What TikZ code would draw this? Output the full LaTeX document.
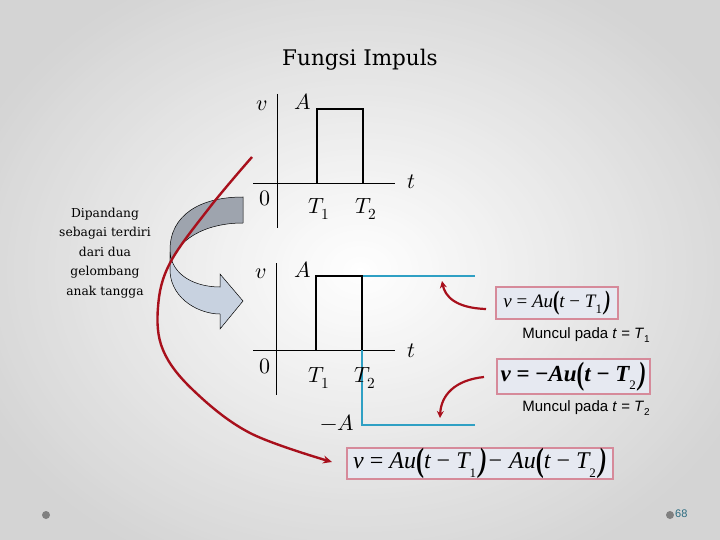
\documentclass[tikz,border=0pt]{standalone}
\usepackage{fontspec}
\usepackage{unicode-math}
\setmathfont{Latin Modern Math}
\usepackage{graphicx}
\usetikzlibrary{arrows.meta}
\newfontfamily\tnr{Liberation Serif}
\newfontfamily\sansf{Liberation Sans}
\newfontfamily\titlef{DejaVu Serif}
\definecolor{redc}{HTML}{A8101C}
\definecolor{bluec}{HTML}{2FA0C4}
\definecolor{pinkc}{HTML}{D68A9A}
\definecolor{boxc}{HTML}{E6E9F1}
\definecolor{darkg}{HTML}{9EA4AE}
\definecolor{lightg}{HTML}{C8D2E0}
\definecolor{pagec}{HTML}{2A6B80}
\newcommand\bp[1]{\raisebox{-0.12em}{\scalebox{1}[1.4]{\bfseries #1}}}
\newcommand\sbs[1]{\raisebox{-0.35em}{\fontsize{13}{13}\selectfont\upshape\mdseries #1}\hspace{0.12em}}
\newcommand\msub[1]{\raisebox{-0.3em}{\fontsize{10}{10}\selectfont\upshape #1}}
\tikzset{
  axis/.style={line width=0.9pt},
  pulse/.style={line width=2.6pt},
  bluel/.style={line width=2.6pt, draw=bluec},
  lbl/.style={font=\fontsize{22}{22}\selectfont, inner sep=0pt},
  eqbox/.style={draw=pinkc, line width=1.8pt, fill=boxc, inner sep=0pt},
  redarrow/.style={draw=redc, line width=2.4pt, -{Stealth[length=9pt,width=8pt]}},
  smallred/.style={draw=redc, line width=2.2pt, -{Stealth[length=7pt,width=7pt]}},
  muncul/.style={font=\sansf\fontsize{15}{15}\selectfont, anchor=east, inner sep=0pt},
}
\begin{document}
\begin{tikzpicture}[x=1pt,y=-1pt]
\useasboundingbox (0,0) rectangle (720,540);
\shade[inner color=white, outer color=black!24] (-60,-60) rectangle (780,600);
\fill[white, opacity=0.3] (0,0) rectangle (720,540);
% title
\node[font=\titlef\fontsize{21.5}{21.5}\selectfont] (title) at (360,60) {Fungsi Impuls};
% left text
\node[font=\titlef\fontsize{12.3}{19.5}\selectfont, align=center] (desc) at (105,253)
  {Dipandang\\sebagai terdiri\\dari dua\\gelombang\\anak tangga};
% curved ribbon arrow
\fill[darkg, draw=black, line width=0.5pt] (243,197) .. controls (200,197) and (170,215) .. (170,250)
  -- (170,268) .. controls (174,240) and (205,223) .. (243,223) -- cycle;
\fill[lightg, draw=black, line width=0.5pt] (170,252) -- (170,272) .. controls (172,300) and (200,314) .. (220,314)
  -- (220,329) -- (243,301) -- (220,274) -- (220,287) .. controls (196,287) and (172,276) .. (170,252) -- cycle;
% ---- top graph
\draw[axis] (277,94) -- (277,228);
\draw[axis] (253,183) -- (395,183);
\draw[pulse] (317,183) -- (317,109) -- (363,109) -- (363,183);
\node[lbl] (v1) at (262,106) {$v$};
\node[lbl] (A1) at (303,102) {$A$};
\node[lbl] (z1) at (265,198) {$0$};
\node[lbl] (Ta1) at (319,209) {$T_1$};
\node[lbl] (Tb1) at (366,209) {$T_2$};
\node[lbl] (t1) at (411,182) {$t$};
% ---- bottom graph
\draw[axis] (276,263) -- (276,395);
\draw[axis] (253,350) -- (395,350);
\draw[bluel] (362,276) -- (475,276);
\draw[bluel] (362,350) -- (362,425) -- (475,425);
\draw[pulse] (316,350) -- (316,276) -- (362,276) -- (362,350);
\node[lbl] (v2) at (261,274) {$v$};
\node[lbl] (A2) at (303,270) {$A$};
\node[lbl] (z2) at (265,366) {$0$};
\node[lbl] (Ta2) at (319,378) {$T_1$};
\node[lbl] (Tb2) at (365,378) {$T_2$};
\node[lbl] (t2) at (411,351) {$t$};
\node[lbl] (mA) at (337,423) {$-A$};
% ---- equation boxes
\node[eqbox, minimum width=122pt, minimum height=32pt] (eq1) at (557,303)
  {\tnr\fontsize{19}{19}\selectfont\itshape v \upshape= \itshape Au\upshape\bp{(}\itshape t \upshape− \itshape T\sbs{1}\bp{)}};
\node[eqbox, minimum width=153pt, minimum height=35pt] (eq2) at (573.5,376.5)
  {\tnr\fontsize{23}{23}\selectfont\bfseries\itshape v \upshape= −\itshape Au\upshape\bp{(}\itshape t \upshape− \itshape T\sbs{2}\bp{)}};
\node[eqbox, minimum width=266pt, minimum height=31pt] (eq3) at (480,463.5)
  {\tnr\fontsize{24}{24}\selectfont\itshape v \upshape= \itshape Au\upshape\bp{(}\itshape t \upshape− \itshape T\sbs{1}\bp{)}− \itshape Au\upshape\bp{(}\itshape t \upshape− \itshape T\sbs{2}\bp{)}};
\node[muncul] (m1) at (650,335) {Muncul pada \textit{t} = \textit{T}\msub{1}};
\node[muncul] (m2) at (650,408) {Muncul pada \textit{t} = \textit{T}\msub{2}};
% ---- red arrows
\coordinate (s1) at (486,309);
\coordinate (e1) at (442,281);
\coordinate (s2) at (484,377);
\coordinate (e2) at (440,418);
\draw[smallred] (s1) .. controls (455,308) and (445,296) .. (e1);
\draw[smallred] (s2) .. controls (455,380) and (441,395) .. (e2);
\coordinate (rs) at (252,157);
\coordinate (re) at (332,462);
\draw[redarrow] plot[smooth, tension=0.6] coordinates {(rs) (210,207) (170,263) (158,307) (163,350) (193,390) (250,433) (re)};
% footer
\fill[black!50] (46,515) circle (4);
\fill[black!50] (670,515) circle (4);
\node[font=\sansf\fontsize{11}{11}\selectfont, text=pagec, anchor=west, inner sep=0pt] (pg) at (675,514) {68};
\end{tikzpicture}
\end{document}
